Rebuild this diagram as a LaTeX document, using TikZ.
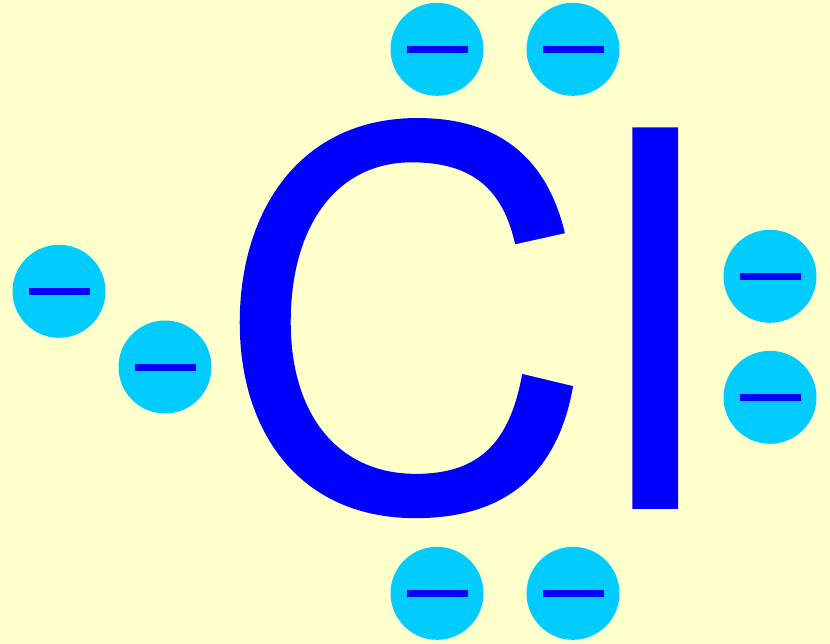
\documentclass[tikz,border=0pt]{standalone}
\usepackage{fontspec}
\setmainfont[FakeStretch=1.02,FakeBold=0.3]{TeX Gyre Heros}
\definecolor{bgyellow}{HTML}{FFFFCC}
\definecolor{ballcyan}{HTML}{00CCFF}
\definecolor{symblue}{HTML}{0000FF}
\tikzset{
  electron/.style={circle,fill=ballcyan,draw=none,inner sep=0pt,minimum size=93pt,
    path picture={\fill[symblue] ([xshift=-30.5pt,yshift=-3.5pt]path picture bounding box.center) rectangle ([xshift=30.5pt,yshift=3.5pt]path picture bounding box.center);}},
  symbol/.style={anchor=base west,inner sep=0pt,outer sep=0pt,text=symblue,font=\fontsize{521}{521}\selectfont}
}
\begin{document}
\begin{tikzpicture}[x=1pt,y=-1pt]
\useasboundingbox (0,0) rectangle (830,644);
\fill[bgyellow] (0,0) rectangle (830,644);
\node[symbol] (cl) at (215,508) {C\kern-1.7pt l};
% trim the ends of the C to the slanted cut of the reference
\fill[bgyellow] (505,246.6) -- (590,227.7) -- (590,255) -- (505,255) -- cycle;
\fill[bgyellow] (505,369.7) -- (590,390.1) -- (590,360) -- (505,360) -- cycle;
\node[electron] (e1) at (437,49.3) {};
\node[electron] (e2) at (573,49.3) {};
\node[electron] (e3) at (59,291.3) {};
\node[electron] (e4) at (165,367) {};
\node[electron] (e5) at (770,276.3) {};
\node[electron] (e6) at (770,397.3) {};
\node[electron] (e7) at (437,593.3) {};
\node[electron] (e8) at (573,593.3) {};
\end{tikzpicture}
\end{document}
